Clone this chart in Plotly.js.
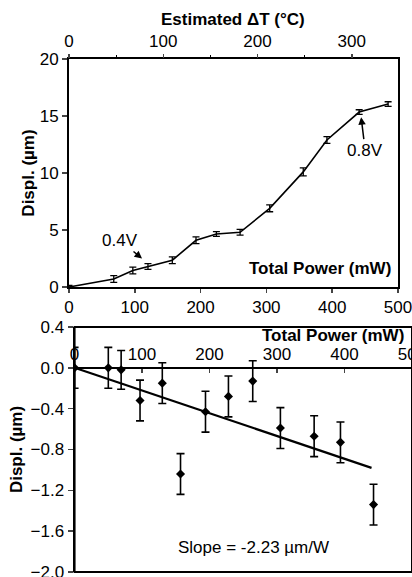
<!DOCTYPE html>
<html><head><meta charset="utf-8">
<script src="https://cdn.plot.ly/plotly-3.0.1.min.js"></script>
<style>html,body{margin:0;padding:0;background:#fff}#chart{width:412px;height:577px}</style>
</head><body><div id="chart"></div>
<script>
// Top panel: displacement vs total power
const powerTop = [0, 68, 97, 120, 157, 193, 224, 260, 305, 356, 392, 441, 485];
const displTop = [0, 0.7, 1.45, 1.8, 2.35, 4.1, 4.65, 4.8, 6.9, 10.1, 12.9, 15.35, 16.05];
const errTop   = [0.15, 0.3, 0.3, 0.25, 0.3, 0.3, 0.2, 0.25, 0.3, 0.35, 0.3, 0.2, 0.2];
// Bottom panel: displacement vs total power, with linear fit
const powerBot = [0, 50, 69, 97, 130, 157, 194, 228, 264, 305, 355, 394, 443];
const displBot = [0, 0, -0.02, -0.32, -0.15, -1.04, -0.43, -0.28, -0.13, -0.59, -0.67, -0.73, -1.34];
const errBot   = [0.2, 0.2, 0.19, 0.2, 0.2, 0.2, 0.2, 0.2, 0.2, 0.2, 0.2, 0.2, 0.2];
const fitPower = [0, 440];
const fitDispl = [0, -0.98];
// Axis ticks
const powerTicks = [0, 100, 200, 300, 400, 500];
const deltaTTicks = [0, 100, 200, 300];
const deltaTRange = [0, 349];
const topDisplTicks = [0, 5, 10, 15, 20];
const botDisplTicks = [0.4, 0.0, -0.4, -0.8, -1.2, -1.6, -2.0];

const FONT = 'Liberation Sans, Arial, sans-serif';
const tickFont = {family: FONT, size: 17, color: '#000'};
const boldFont = {family: FONT, size: 17, color: '#000', weight: 'bold'};

const traces = [
  {x: powerTop, y: displTop, xaxis: 'x', yaxis: 'y', mode: 'lines', type: 'scatter',
   line: {color: '#000', width: 1.6},
   error_y: {type: 'data', array: errTop, visible: true, color: '#000', thickness: 1.3, width: 3.5},
   hoverinfo: 'skip', showlegend: false},
  {x: [], y: [], xaxis: 'x2', yaxis: 'y', mode: 'lines', type: 'scatter', showlegend: false, hoverinfo: 'skip'},
  {x: fitPower, y: fitDispl, xaxis: 'x3', yaxis: 'y2', mode: 'lines', type: 'scatter',
   line: {color: '#000', width: 2.2}, hoverinfo: 'skip', showlegend: false},
  {x: powerBot, y: displBot, xaxis: 'x3', yaxis: 'y2', mode: 'markers', type: 'scatter',
   marker: {symbol: 'diamond', size: 7, color: '#000'},
   error_y: {type: 'data', array: errBot, visible: true, color: '#000', thickness: 1.6, width: 4},
   hoverinfo: 'skip', showlegend: false}
];

const zeroPaper = 0.00867 + (0.4333 - 0.00867) * (2.0 / 2.4);

const layout = {
  width: 412, height: 577,
  margin: {l: 0, r: 0, t: 0, b: 0},
  paper_bgcolor: '#fff', plot_bgcolor: '#fff',
  showlegend: false,
  font: tickFont,
  xaxis: {domain: [0.1675, 0.966], anchor: 'y', range: [0, 500],
    tickvals: powerTicks, ticks: 'outside', ticklen: 4, tickwidth: 1.5,
    showline: true, linewidth: 2, linecolor: '#000', mirror: true, showgrid: false, zeroline: false,
    tickfont: tickFont, automargin: false, ticklabeloverflow: 'allow'},
  xaxis2: {overlaying: 'x', side: 'top', anchor: 'y', range: deltaTRange,
    tickvals: deltaTTicks, ticks: 'outside', ticklen: 4, tickwidth: 1.5,
    minor: {dtick: 50, ticks: 'outside', ticklen: 3, tickwidth: 1.2, tickcolor: '#000'},
    showline: false, showgrid: false, zeroline: false, tickfont: tickFont, automargin: false, ticklabeloverflow: 'allow'},
  yaxis: {domain: [0.5026, 0.8977], anchor: 'x', range: [0, 20],
    tickvals: topDisplTicks, ticks: 'outside', ticklen: 5, tickwidth: 1.5,
    showline: true, linewidth: 2, linecolor: '#000', mirror: true, showgrid: false, zeroline: false,
    tickfont: tickFont, automargin: false, ticklabeloverflow: 'allow',
    title: {text: 'Displ. (µm)', font: boldFont, standoff: 1}},
  xaxis3: {domain: [0.181, 1.0], anchor: 'free', position: zeroPaper, side: 'top', range: [0, 500],
    tickvals: powerTicks, ticks: 'inside', ticklen: 4, tickwidth: 1.5,
    showline: true, linewidth: 2, linecolor: '#000', showgrid: false, zeroline: false,
    tickfont: tickFont, automargin: false, ticklabeloverflow: 'allow'},
  yaxis2: {domain: [0.00867, 0.4333], anchor: 'x3', range: [-2.0, 0.4],
    tickvals: botDisplTicks, tickformat: '.1f', ticks: 'outside', ticklen: 5, tickwidth: 1.5,
    showline: true, linewidth: 2, linecolor: '#000', showgrid: false, zeroline: false,
    tickfont: tickFont, automargin: false, ticklabeloverflow: 'allow',
    title: {text: 'Displ. (µm)', font: boldFont, standoff: 4}},
  shapes: [
    {type: 'rect', xref: 'x3 domain', yref: 'y2 domain', x0: 0, x1: 1, y0: 0, y1: 1,
     line: {color: '#000', width: 2}, fillcolor: 'rgba(0,0,0,0)'}
  ],
  annotations: [
    {text: 'Estimated ΔT (°C)', xref: 'paper', yref: 'paper', x: 0.5655, y: 0.986, showarrow: false, font: boldFont},
    {text: 'Total Power (mW)', xref: 'paper', yref: 'paper', x: 0.953, y: 0.5355, showarrow: false, font: boldFont},
    {text: 'Total Power (mW)', xref: 'paper', yref: 'paper', x: 0.985, y: 0.4194, showarrow: false, font: boldFont},
    {text: 'Slope = -2.23 µm/W', xref: 'paper', yref: 'paper', x: 0.6165, y: 0.031, showarrow: false, font: tickFont},
    {text: '0.4V', xref: 'x', yref: 'y', x: 111, y: 2.5, ax: -22, ay: -18,
     showarrow: true, arrowhead: 2, arrowwidth: 1.5, arrowcolor: '#000', font: tickFont},
    {text: '0.8V', xref: 'x', yref: 'y', x: 444, y: 14.9, ax: 4, ay: 33,
     showarrow: true, arrowhead: 2, arrowwidth: 1.5, arrowcolor: '#000', font: tickFont}
  ]
};

Plotly.newPlot('chart', traces, layout, {staticPlot: true, displayModeBar: false});
</script>
</body></html>
